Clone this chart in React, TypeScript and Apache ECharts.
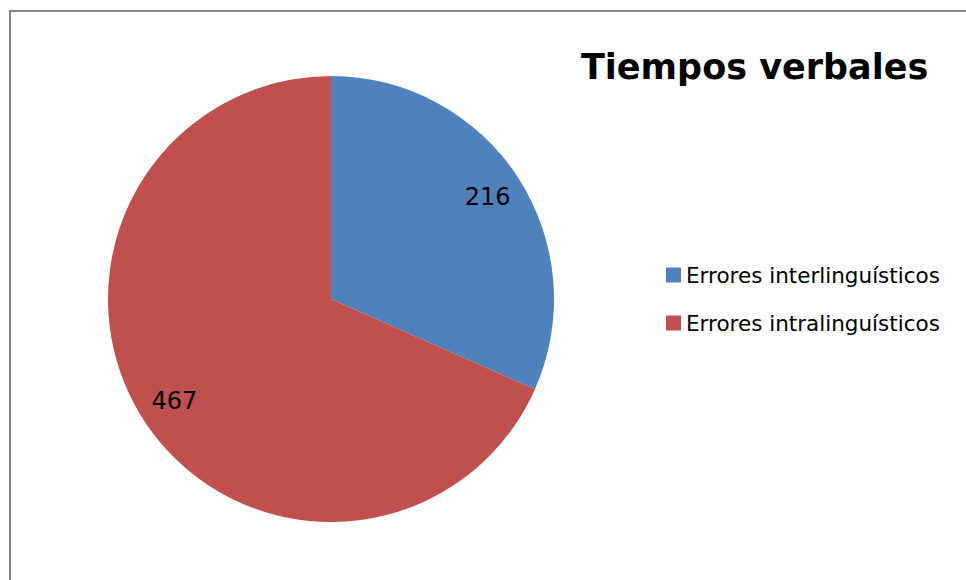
import React, { useEffect, useRef } from "react";
import * as echarts from "echarts";

const titleText = "Tiempos verbales";
const categories = ["Errores interlinguísticos", "Errores intralinguísticos"];
const values = [216, 467];
const colors = ["#4F81BD", "#C0504D"];

export default function App() {
  const ref = useRef<HTMLDivElement>(null);
  useEffect(() => {
    if (!ref.current) return;
    const chart = echarts.init(ref.current, undefined, { renderer: "svg" });
    const data = categories.map((name, i) => ({ name, value: values[i], itemStyle: { color: colors[i] } }));
    chart.setOption({
      animation: false,
      backgroundColor: "#ffffff",
      title: {
        text: titleText,
        left: 581,
        top: 49,
        padding: 0,
        textStyle: { fontFamily: "DejaVu Sans", fontWeight: "bold", fontSize: 35, color: "#000" },
      },
      legend: {
        orient: "vertical",
        left: 666,
        top: 264,
        padding: 0,
        icon: "rect",
        itemWidth: 15,
        itemHeight: 15,
        itemGap: 26,
        data: categories,
        textStyle: { fontFamily: "DejaVu Sans", fontSize: 21.5, lineHeight: 20, color: "#000" },
      },
      graphic: [
        { type: "line", shape: { x1: 10, y1: 11, x2: 966, y2: 11 }, style: { stroke: "#868686", lineWidth: 2 } },
        { type: "line", shape: { x1: 10, y1: 10, x2: 10, y2: 580 }, style: { stroke: "#868686", lineWidth: 2 } },
      ],
      series: [
        {
          type: "pie",
          center: [331, 299],
          radius: [0, 223],
          startAngle: 90,
          clockwise: true,
          silent: true,
          label: { show: false },
          labelLine: { show: false },
          itemStyle: { borderWidth: 0 },
          data,
        },
        {
          type: "pie",
          center: [331, 299],
          radius: [145, 223],
          startAngle: 90,
          clockwise: true,
          silent: true,
          legendHoverLink: false,
          itemStyle: { color: "transparent", borderWidth: 0 },
          label: {
            show: true,
            position: "inside",
            formatter: "{c}",
            fontFamily: "DejaVu Sans",
            fontSize: 24,
            color: "#000",
          },
          labelLine: { show: false },
          data: categories.map((name, i) => ({ name: name + " ", value: values[i] })),
        },
      ],
    });
    return () => chart.dispose();
  }, []);
  return <div ref={ref} style={{ position: "fixed", left: 0, top: 0, width: 966, height: 580 }} />;
}
